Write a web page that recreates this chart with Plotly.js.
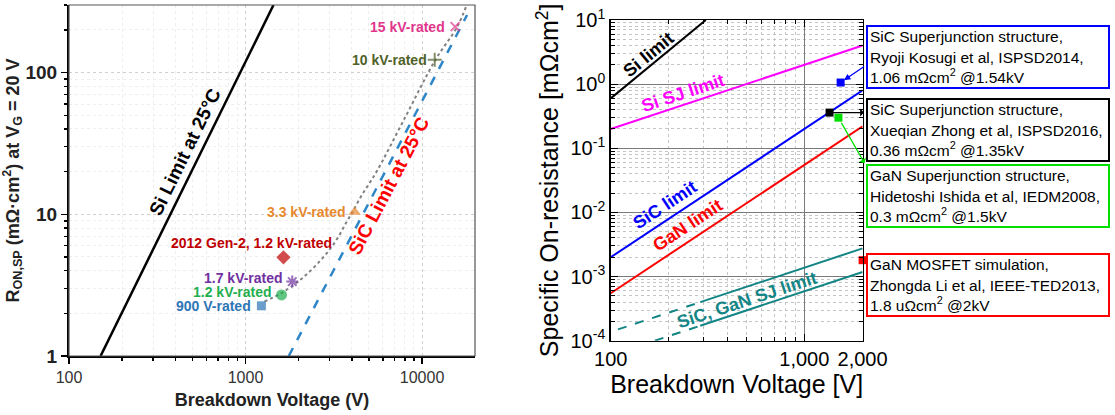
<!DOCTYPE html>
<html><head><meta charset="utf-8">
<script src="https://cdn.plot.ly/plotly-3.0.1.min.js"></script>
<style>html,body{margin:0;padding:0;background:#fff}#chart{width:1115px;height:415px}</style>
</head><body><div id="chart"></div>
<script>
// ---------- Left panel data ----------
const siLimitV = [151, 1440];
const siLimitR = [1, 300];
const sicLimitV = [1758, 18000];
const sicLimitR = [1, 255];
const trendV = [1280, 1590, 1930, 2250, 2620, 2980, 3320, 3700, 4040, 4500, 5020, 5590, 8000, 11900, 15800, 17900];
const trendR = [2.42, 2.77, 3.26, 3.83, 4.63, 5.6, 6.77, 8.64, 10.4, 13.3, 16.5, 20.5, 48, 123, 210, 300];
const deviceNames = ['900 V-rated', '1.2 kV-rated', '1.7 kV-rated', '2012 Gen-2, 1.2 kV-rated', '3.3 kV-rated', '10 kV-rated', '15 kV-rated'];
const deviceV = [1230, 1600, 1840, 1640, 4150, 11800, 15400];
const deviceR = [2.26, 2.7, 3.35, 4.97, 10.4, 123, 211];
const leftXTicks = [100, 1000, 10000];
const leftXTickText = ['100', '1000', '10000'];
const leftYTicks = [1, 10, 100];
const leftYTickText = ['1', '10', '100'];

// ---------- Right panel data ----------
const limitNames = ['Si limit', 'Si SJ limit', 'SiC limit', 'GaN limit'];
const limitV = [[100, 310], [100, 2000], [100, 2000], [100, 2000]];
const limitR = [[0.6, 10], [0.2, 4], [0.002, 0.8], [0.00055, 0.22]];
const sjUpperDashV = [109, 290];
const sjUpperDashR = [1.5e-4, 3.99e-4];
const sjUpperSolidV = [290, 2000];
const sjUpperSolidR = [3.99e-4, 2.75e-3];
const sjLowerDashV = [169, 290];
const sjLowerDashR = [1.0e-4, 1.71e-4];
const sjLowerSolidV = [290, 2000];
const sjLowerSolidR = [1.71e-4, 1.18e-3];
const refV = [1540, 1350, 1500, 2000];
const refR = [1.06, 0.36, 0.3, 0.0018];
const refText = [
  'SiC Superjunction structure,<br>Ryoji Kosugi et al, ISPSD2014,<br>1.06 mΩcm<sup>2</sup> @1.54kV',
  'SiC Superjunction structure,<br>Xueqian Zhong et al, ISPSD2016,<br>0.36 mΩcm<sup>2</sup> @1.35kV',
  'GaN Superjunction structure,<br>Hidetoshi Ishida et al, IEDM2008,<br>0.3 mΩcm<sup>2</sup> @1.5kV',
  'GaN MOSFET simulation,<br>Zhongda Li et al, IEEE-TED2013,<br>1.8 uΩcm<sup>2</sup> @2kV'
];
const rightXTicks = [100, 1000, 2000];
const rightXTickText = ['100', '1,000', '2,000'];
const rightYTicks = [1e-4, 1e-3, 1e-2, 1e-1, 1, 10];
const rightYTickText = ['10<sup>-4</sup>', '10<sup>-3</sup>', '10<sup>-2</sup>', '10<sup>-1</sup>', '10<sup>0</sup>', '10<sup>1</sup>'];

// ---------- styles ----------
const FONT = 'Liberation Sans, Arial, sans-serif';
const NARROW = 'Liberation Sans Narrow, Arial Narrow, Liberation Sans, Arial, sans-serif';
const devSymbols = ['square', 'circle', 'asterisk', 'diamond', 'triangle-up', 'cross-thin', 'x-thin'];
const devColors = ['#2e75b6', '#1fae4e', '#7030a0', '#c00000', '#e6892f', '#4f6228', '#e0368c'];
const devSizes = [9, 11, 10, 11, 11, 10, 9];
const devLineW = [0, 0, 2, 0, 0, 2, 2];
const devLabelShift = [[-8, 0, 'right'], [-8, 3, 'right'], [-7, 4, 'right'], [-32, 14, 'center'], [-7, 0, 'right'], [-6, 0, 'right'], [-8, 0, 'right']];
const limitColors = ['#000000', '#ff00ff', '#0000ff', '#ff0000'];
const teal = '#138585';
const refColors = ['#0000ff', '#000000', '#00e000', '#ff0000'];
const boxTops = [25, 98, 164, 253];

const traces = [];
// left panel
traces.push({x: siLimitV, y: siLimitR, xaxis: 'x', yaxis: 'y', mode: 'lines', line: {color: '#000', width: 2.5}, hoverinfo: 'skip'});
traces.push({x: sicLimitV, y: sicLimitR, xaxis: 'x', yaxis: 'y', mode: 'lines', line: {color: '#2e86c8', width: 2.5, dash: 'dash'}, hoverinfo: 'skip'});
traces.push({x: trendV, y: trendR, xaxis: 'x', yaxis: 'y', mode: 'lines', line: {color: '#808080', width: 2, dash: 'dot', shape: 'spline'}, hoverinfo: 'skip'});
traces.push({x: deviceV, y: deviceR, xaxis: 'x', yaxis: 'y', mode: 'markers', cliponaxis: false,
  marker: {symbol: devSymbols, color: devColors, size: devSizes, line: {color: devColors, width: devLineW}}, hoverinfo: 'skip'});
// right panel
for (let i = 0; i < limitNames.length; i++) {
  traces.push({x: limitV[i], y: limitR[i], xaxis: 'x2', yaxis: 'y2', mode: 'lines', line: {color: limitColors[i], width: 2}, hoverinfo: 'skip'});
}
traces.push({x: sjUpperDashV, y: sjUpperDashR, xaxis: 'x2', yaxis: 'y2', mode: 'lines', line: {color: teal, width: 2, dash: 'dash'}});
traces.push({x: sjUpperSolidV, y: sjUpperSolidR, xaxis: 'x2', yaxis: 'y2', mode: 'lines', line: {color: teal, width: 2}});
traces.push({x: sjLowerDashV, y: sjLowerDashR, xaxis: 'x2', yaxis: 'y2', mode: 'lines', line: {color: teal, width: 2, dash: 'dash'}});
traces.push({x: sjLowerSolidV, y: sjLowerSolidR, xaxis: 'x2', yaxis: 'y2', mode: 'lines', line: {color: teal, width: 2}});
traces.push({x: refV, y: refR, xaxis: 'x2', yaxis: 'y2', mode: 'markers', cliponaxis: false,
  marker: {symbol: 'square', size: 8, color: refColors}, hoverinfo: 'skip'});

const annotations = [];
// left in-plot text
annotations.push({xref: 'x', yref: 'y', x: 2.66, y: 1.44, text: 'Si Limit at 25°C', showarrow: false, textangle: -63.9,
  font: {family: NARROW, size: 19, weight: 'bold', color: '#000'}});
annotations.push({xref: 'x', yref: 'y', x: 3.814, y: 1.2, text: 'SiC Limit at 25°C', showarrow: false, textangle: -62.3,
  font: {family: NARROW, size: 19, weight: 'bold', color: '#ff0000'}});
for (let i = 0; i < deviceNames.length; i++) {
  const s = devLabelShift[i];
  annotations.push({xref: 'x', yref: 'y', x: Math.log10(deviceV[i]), y: Math.log10(deviceR[i]), text: deviceNames[i], showarrow: false,
    xanchor: s[2], yanchor: 'middle', xshift: s[0], yshift: s[1],
    font: {family: NARROW, size: 14, weight: 'bold', color: devColors[i]}});
}
// right in-plot text
const rightLabels = [
  ['Si limit', 2.193, 0.457, -39.6, '#000'],
  ['Si SJ limit', 2.373, -0.136, -18.3, '#ff00ff'],
  ['SiC limit', 2.28, -1.883, -33.5, '#0000ff'],
  ['GaN limit', 2.399, -2.195, -33.5, '#ff0000'],
  ['SiC, GaN SJ limit', 2.704, -3.365, -18.3, teal]
];
rightLabels.forEach(l => annotations.push({xref: 'x2', yref: 'y2', x: l[1], y: l[2], text: l[0], showarrow: false, textangle: l[3],
  font: {family: FONT, size: 18, weight: 'bold', color: l[4]}}));
// reference boxes
for (let i = 0; i < refText.length; i++) {
  annotations.push({xref: 'paper', yref: 'paper', x: 866 / 1115, y: 1 - boxTops[i] / 415, xanchor: 'left', yanchor: 'top',
    text: refText[i], showarrow: false, align: 'left', valign: 'middle', width: 236, height: 56,
    bordercolor: refColors[i], borderwidth: 2, borderpad: 2, bgcolor: '#fff',
    font: {family: FONT, size: 15.5, color: '#000'}});
}
// connectors
annotations.push({xref: 'x2', yref: 'y2', x: Math.log10(refV[0]), y: Math.log10(refR[0]), ax: 25, ay: -17, axref: 'pixel', ayref: 'pixel',
  text: '', showarrow: true, arrowhead: 2, arrowsize: 1, arrowwidth: 1.3, arrowcolor: refColors[0], standoff: 4});
annotations.push({xref: 'x2', yref: 'y2', x: Math.log10(refV[1]), y: Math.log10(refR[1]), ax: 36, ay: 0, axref: 'pixel', ayref: 'pixel',
  text: '', showarrow: true, arrowhead: 2, arrowside: 'start', arrowsize: 1, arrowwidth: 1.3, arrowcolor: refColors[1]});
annotations.push({xref: 'x2', yref: 'y2', x: Math.log10(refV[2]), y: Math.log10(refR[2]), ax: 27, ay: 47, axref: 'pixel', ayref: 'pixel',
  text: '', showarrow: true, arrowhead: 2, arrowside: 'start', arrowsize: 1, arrowwidth: 1.3, arrowcolor: refColors[2], standoff: 6});

const leftAxisCommon = {
  type: 'log', showline: true, linecolor: '#000', linewidth: 2, ticks: 'outside', ticklen: 6, tickwidth: 1.5, tickcolor: '#000',
  showgrid: true, gridcolor: '#d0d0d0', griddash: 'dot', gridwidth: 1, zeroline: false, tickmode: 'array',
  minor: {dtick: 'D1', ticks: 'outside', ticklen: 3, tickcolor: '#000', showgrid: true, gridcolor: '#eeeeee'}
};
const rightAxisCommon = {
  type: 'log', showline: true, linecolor: '#000', linewidth: 1.5, mirror: 'allticks', ticks: 'inside', ticklen: 7, tickwidth: 1, tickcolor: '#000',
  showgrid: true, gridcolor: '#7a7a7a', gridwidth: 1, zeroline: false, tickmode: 'array',
  tickfont: {family: FONT, size: 20, color: '#000'},
  minor: {dtick: 'D1', ticks: 'inside', ticklen: 4, tickcolor: '#000', showgrid: true, gridcolor: '#c4c4c4', griddash: 'dot'}
};

const layout = {
  width: 1115, height: 415, margin: {l: 0, r: 0, t: 0, b: 0}, showlegend: false,
  paper_bgcolor: '#fff', plot_bgcolor: '#fff', font: {family: FONT},
  xaxis: Object.assign({}, leftAxisCommon, {domain: [69 / 1115, 475 / 1115], anchor: 'y', range: [2, 4.3],
    tickvals: leftXTicks, ticktext: leftXTickText, tickfont: {family: FONT, size: 16, color: '#333'},
    title: {text: 'Breakdown Voltage (V)', font: {family: FONT, size: 18, weight: 'bold', color: '#222'}, standoff: 8}}),
  yaxis: Object.assign({}, leftAxisCommon, {domain: [1 - 356 / 415, 1 - 5 / 415], anchor: 'x', range: [0, Math.log10(300)],
    tickvals: leftYTicks, ticktext: leftYTickText, tickfont: {family: FONT, size: 19, weight: 'bold', color: '#222'},
    title: {text: 'R<sub>ON,SP</sub> (mΩ·cm<sup>2</sup>) at V<sub>G</sub> = 20 V', font: {family: FONT, size: 18, weight: 'bold', color: '#222'}, standoff: 8}}),
  xaxis2: Object.assign({}, rightAxisCommon, {domain: [610.7 / 1115, 862.6 / 1115], anchor: 'y2', range: [2, Math.log10(2000)],
    tickvals: rightXTicks, ticktext: rightXTickText,
    title: {text: 'Breakdown Voltage [V]', font: {family: FONT, size: 25, color: '#000'}, standoff: 2}}),
  yaxis2: Object.assign({}, rightAxisCommon, {domain: [1 - 340.7 / 415, 1 - 20 / 415], anchor: 'x2', range: [-4, 1],
    tickvals: rightYTicks, ticktext: rightYTickText,
    title: {text: 'Specific On-resistance [mΩcm<sup>2</sup>]', font: {family: FONT, size: 25, color: '#000'}, standoff: 4}}),
  shapes: [
    {type: 'rect', xref: 'x domain', yref: 'y domain', x0: 0, x1: 1, y0: 0, y1: 1, line: {color: '#555', width: 1.2}, layer: 'above'}
  ],
  annotations: annotations
};

Plotly.newPlot('chart', traces, layout, {displayModeBar: false, staticPlot: true});
</script>
</body></html>
